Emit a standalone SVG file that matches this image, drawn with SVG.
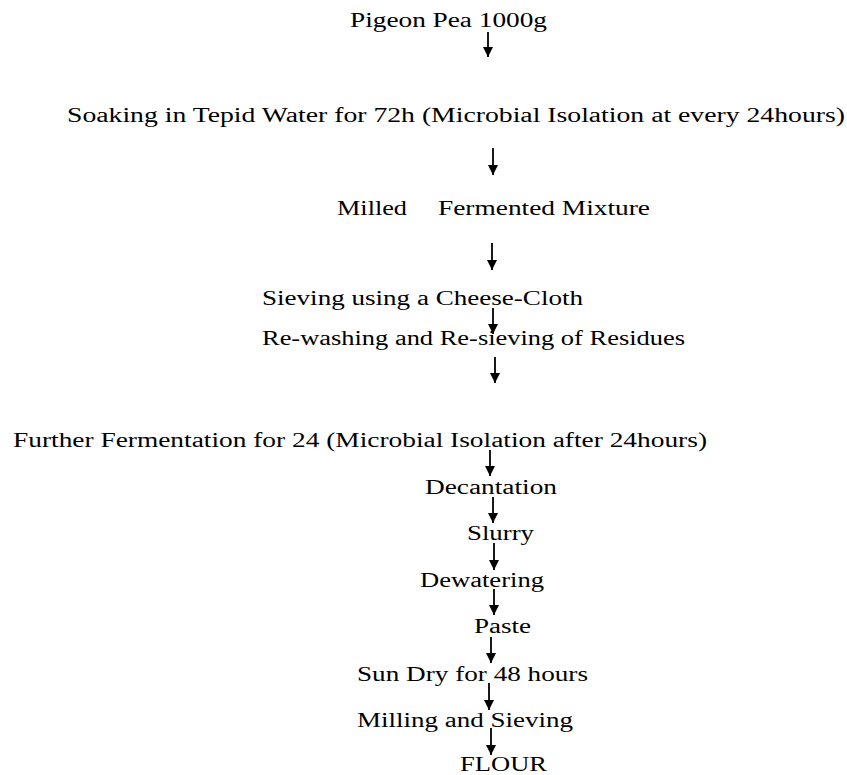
<svg xmlns="http://www.w3.org/2000/svg" width="847" height="775" viewBox="0 0 847 775">
<defs>
<marker id="ah" viewBox="0 0 10 10" refX="10" refY="5" markerWidth="10" markerHeight="11" markerUnits="userSpaceOnUse" orient="auto">
<path d="M0,0 L10,5 L0,10 z" fill="#000"/>
</marker>
<style>
text{font-family:"Liberation Serif","Times New Roman",serif;font-size:20px;fill:#000}
.c line{stroke:#000;stroke-width:1.8;marker-end:url(#ah)}
</style>
</defs>
<rect width="847" height="775" fill="#fff"/>
<g id="n1"><text x="350" y="27" textLength="197" lengthAdjust="spacingAndGlyphs">Pigeon Pea 1000g</text></g>
<g id="n2"><text x="67" y="122" textLength="778" lengthAdjust="spacingAndGlyphs">Soaking in Tepid Water for 72h (Microbial Isolation at every 24hours)</text></g>
<g id="n3"><text x="337" y="215" textLength="70" lengthAdjust="spacingAndGlyphs">Milled</text><text x="438" y="215" textLength="212" lengthAdjust="spacingAndGlyphs">Fermented Mixture</text></g>
<g id="n4"><text x="262" y="305" textLength="321" lengthAdjust="spacingAndGlyphs">Sieving using a Cheese-Cloth</text></g>
<g id="n5"><text x="262" y="345" textLength="423" lengthAdjust="spacingAndGlyphs">Re-washing and Re-sieving of Residues</text></g>
<g id="n6"><text x="13" y="447" textLength="694" lengthAdjust="spacingAndGlyphs">Further Fermentation for 24 (Microbial Isolation after 24hours)</text></g>
<g id="n7"><text x="425" y="494" textLength="132" lengthAdjust="spacingAndGlyphs">Decantation</text></g>
<g id="n8"><text x="467" y="540" textLength="67" lengthAdjust="spacingAndGlyphs">Slurry</text></g>
<g id="n9"><text x="420" y="587" textLength="124" lengthAdjust="spacingAndGlyphs">Dewatering</text></g>
<g id="n10"><text x="474" y="633" textLength="57" lengthAdjust="spacingAndGlyphs">Paste</text></g>
<g id="n11"><text x="357" y="681" textLength="231" lengthAdjust="spacingAndGlyphs">Sun Dry for 48 hours</text></g>
<g id="n12"><text x="357" y="727" textLength="216" lengthAdjust="spacingAndGlyphs">Milling and Sieving</text></g>
<g id="n13"><text x="460" y="771" textLength="87" lengthAdjust="spacingAndGlyphs">FLOUR</text></g>
<g id="connectors" class="c">
<line x1="488" y1="32" x2="488" y2="57"/>
<line x1="493" y1="148" x2="493" y2="175"/>
<line x1="492" y1="243" x2="492" y2="270"/>
<line x1="493" y1="308" x2="493" y2="334"/>
<line x1="495" y1="357" x2="495" y2="383"/>
<line x1="490" y1="450" x2="490" y2="476"/>
<line x1="493" y1="497" x2="493" y2="523"/>
<line x1="494" y1="543" x2="494" y2="570"/>
<line x1="494" y1="589" x2="494" y2="615"/>
<line x1="491" y1="637" x2="491" y2="663"/>
<line x1="489" y1="683" x2="489" y2="710"/>
<line x1="491" y1="728" x2="491" y2="755"/>
</g>
</svg>
